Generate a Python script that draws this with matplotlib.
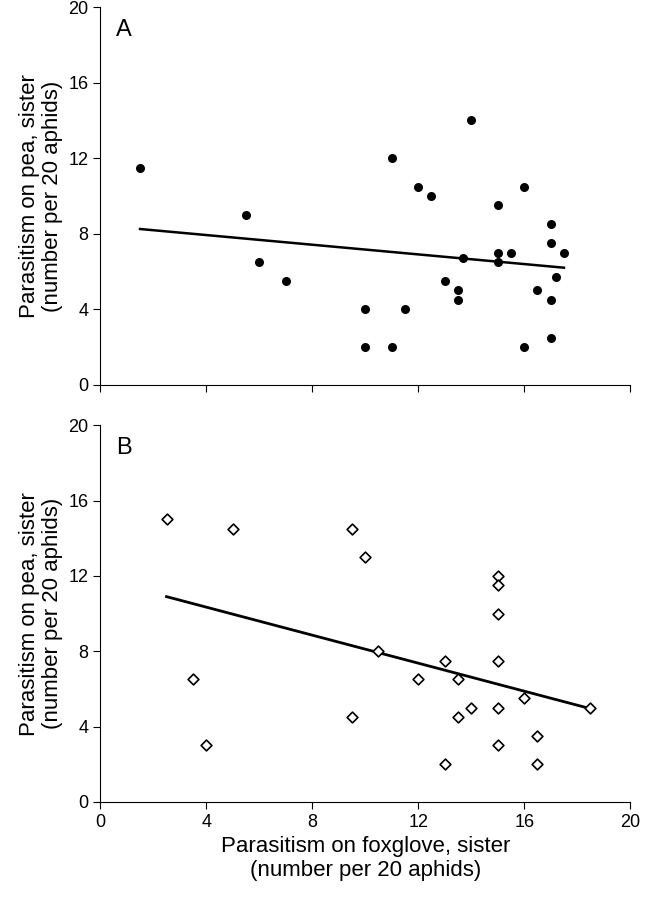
import matplotlib
matplotlib.use("Agg")
import matplotlib.pyplot as plt

plt.rcParams["font.family"] = ["Liberation Sans", "DejaVu Sans"]

# panel A: pea vs foxglove (filled)
a_x = [1.5, 5.5, 6, 7, 10, 10, 11, 11, 11.5, 12, 12.5, 13, 13.5, 13.5, 13.7, 14,
       15, 15, 15, 15.5, 16, 16, 16.5, 17, 17, 17, 17, 17.2, 17.5]
a_y = [11.5, 9, 6.5, 5.5, 4, 2, 12, 2, 4, 10.5, 10, 5.5, 5, 4.5, 6.7, 14,
       9.5, 7, 6.5, 7, 10.5, 2, 5, 8.5, 7.5, 4.5, 2.5, 5.7, 7]
a_line_x = [1.5, 17.5]
a_line_y = [8.25, 6.2]

# panel B (open diamonds)
b_x = [2.5, 3.5, 4, 5, 9.5, 9.5, 10, 10.5, 12, 13, 13, 13.5, 13.5, 14,
       15, 15, 15, 15, 15, 15, 16, 16.5, 16.5, 18.5]
b_y = [15, 6.5, 3, 14.5, 14.5, 4.5, 13, 8, 6.5, 7.5, 2, 6.5, 4.5, 5,
       12, 11.5, 10, 7.5, 5, 3, 5.5, 3.5, 2, 5]
b_line_x = [2.5, 18.5]
b_line_y = [10.9, 4.95]

ticks = [0, 4, 8, 12, 16, 20]
ylab = "Parasitism on pea, sister\n(number per 20 aphids)"

fig = plt.figure(figsize=(6.47, 9.01), dpi=100)
ax1 = fig.add_axes([0.155, 0.573, 0.819, 0.419])
ax2 = fig.add_axes([0.155, 0.110, 0.819, 0.418])

ax1.scatter(a_x, a_y, s=30, color="black", zorder=3)
ax1.plot(a_line_x, a_line_y, color="black", lw=1.8)
ax2.scatter(b_x, b_y, s=30, marker="D", facecolors="white", edgecolors="black",
            linewidths=1.2, zorder=3)
ax2.plot(b_line_x, b_line_y, color="black", lw=2)

for ax, lab in [(ax1, "A"), (ax2, "B")]:
    ax.set_xlim(0, 20)
    ax.set_ylim(0, 20)
    ax.set_xticks(ticks)
    ax.set_yticks(ticks)
    ax.spines["top"].set_visible(False)
    ax.spines["right"].set_visible(False)
    ax.tick_params(labelsize=13, direction="out", length=5)
    ax.set_ylabel(ylab, fontsize=16, linespacing=1.1)
    ax.text(0.03, 0.97, lab, transform=ax.transAxes, fontsize=17, va="top")

ax1.set_xticklabels([])
ax2.set_xlabel("Parasitism on foxglove, sister\n(number per 20 aphids)",
               fontsize=16, linespacing=1.2)

fig.savefig("out.png", dpi=100)
